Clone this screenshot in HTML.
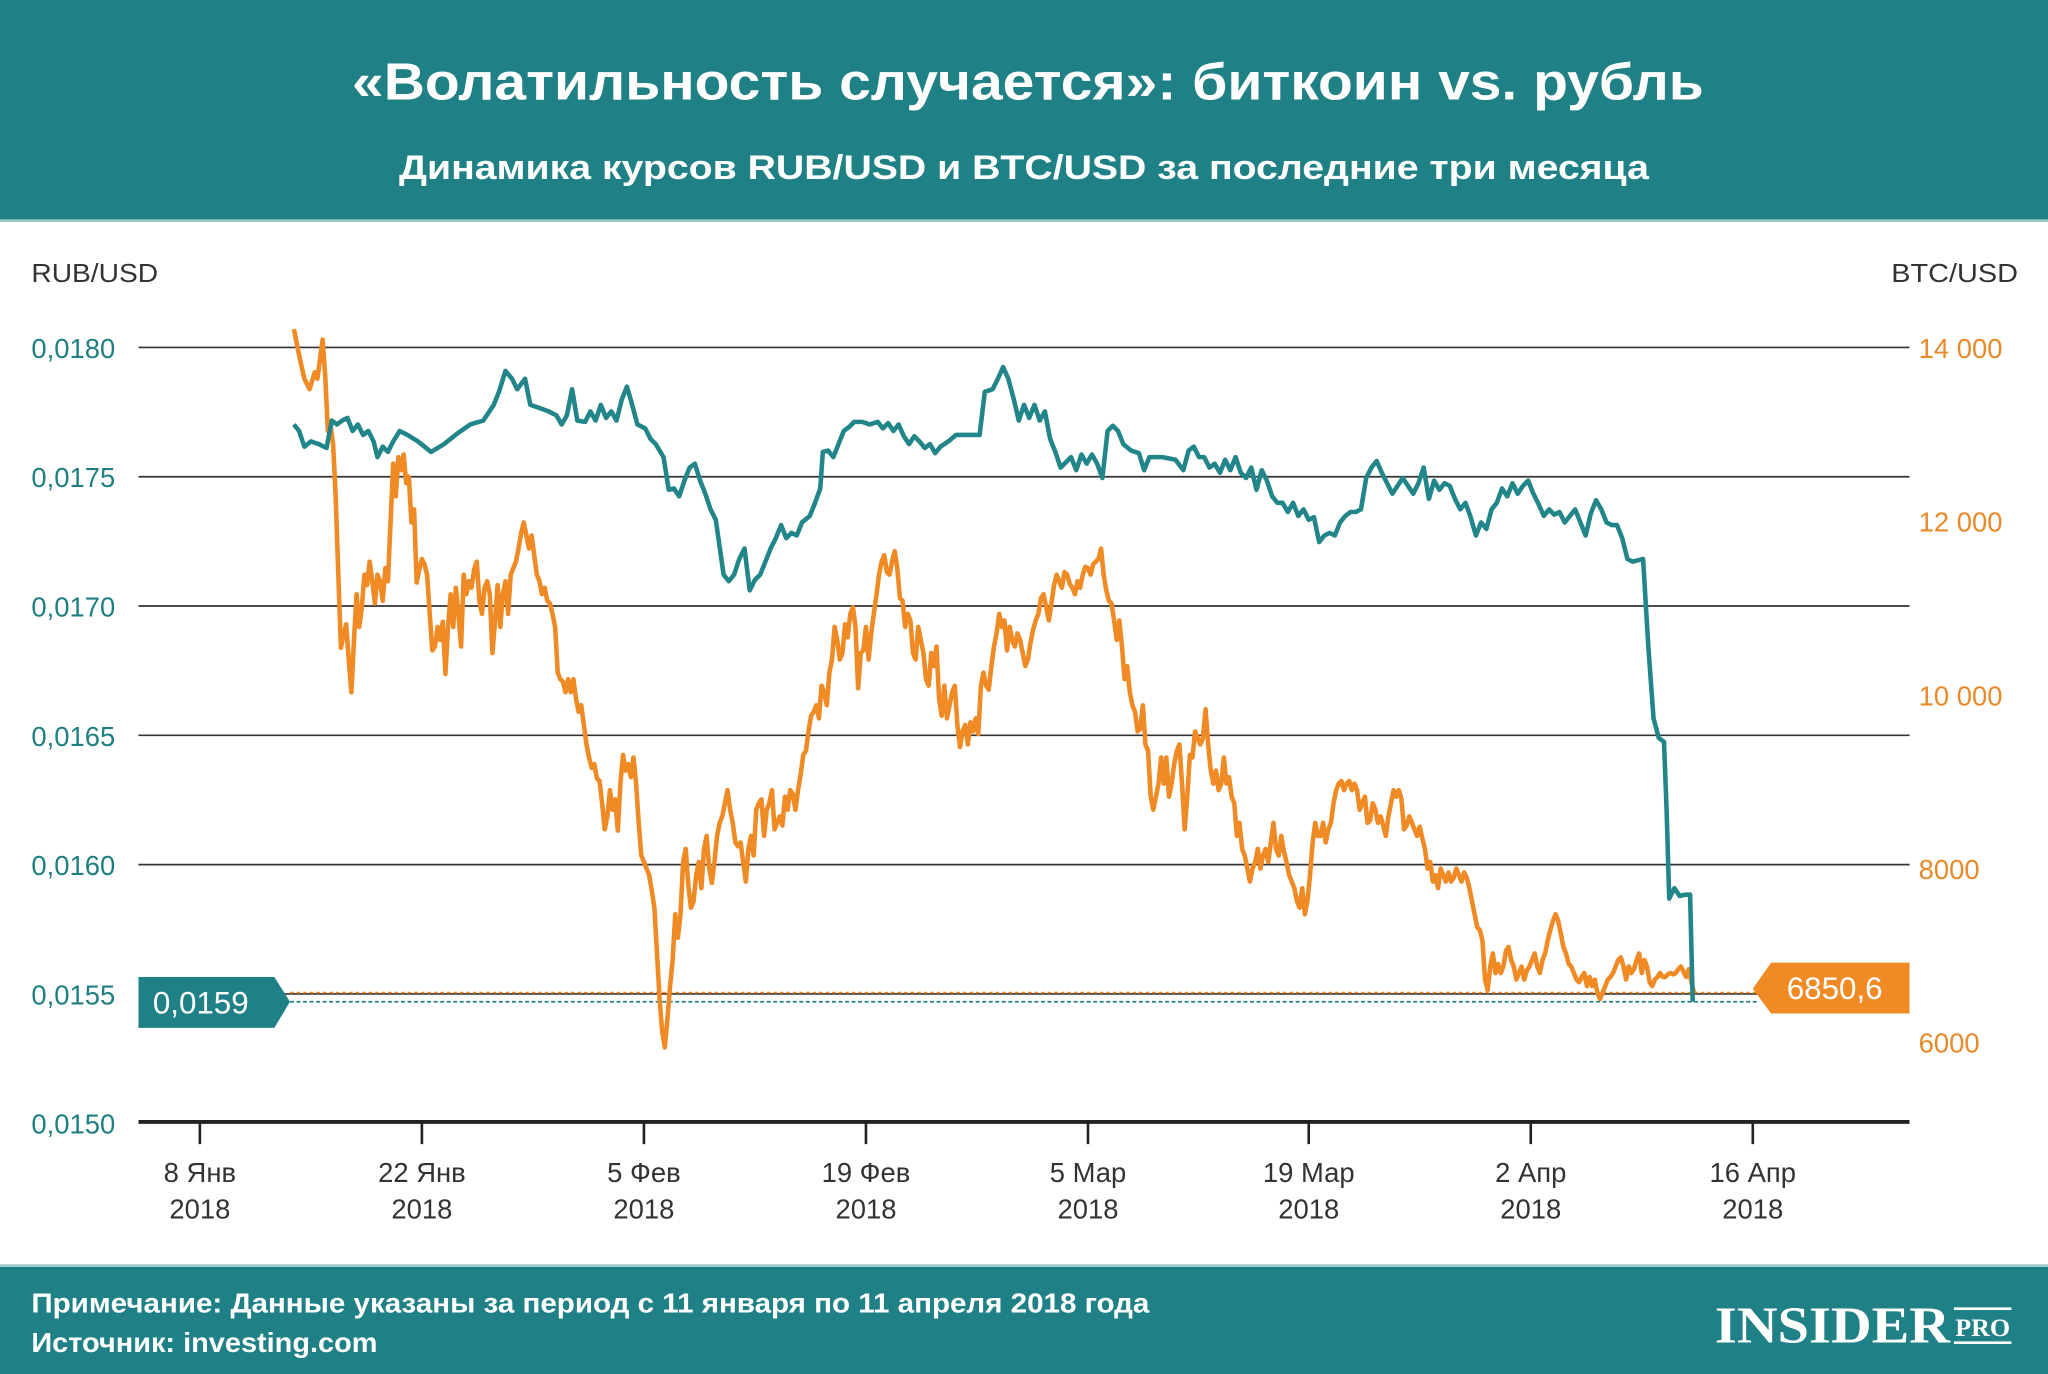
<!DOCTYPE html>
<html><head><meta charset="utf-8"><style>
html,body{margin:0;padding:0;background:#fff;}
svg{display:block;}
text{font-family:"Liberation Sans",sans-serif;}
</style></head><body>
<svg width="2048" height="1374" viewBox="0 0 1568 1052" xmlns="http://www.w3.org/2000/svg">
<rect x="0" y="0" width="1568" height="168" fill="#1f8185"/>
<rect x="0" y="168" width="1568" height="2" fill="#9cc8c9"/>
<text x="787" y="76" text-anchor="middle" font-size="40" font-weight="bold" fill="#fff" textLength="1035" lengthAdjust="spacingAndGlyphs">«Волатильность случается»: биткоин vs. рубль</text>
<text x="784" y="137" text-anchor="middle" font-size="26" font-weight="bold" fill="#fff" textLength="957" lengthAdjust="spacingAndGlyphs">Динамика курсов RUB/USD и BTC/USD за последние три месяца</text>

<text x="24" y="216" font-size="20" fill="#333" textLength="97" lengthAdjust="spacingAndGlyphs">RUB/USD</text>
<text x="1545" y="216" text-anchor="end" font-size="20" fill="#333" textLength="97" lengthAdjust="spacingAndGlyphs">BTC/USD</text>

<g stroke="#333" stroke-width="1.3">
<line x1="106" y1="266" x2="1462" y2="266"/>
<line x1="106" y1="365" x2="1462" y2="365"/>
<line x1="106" y1="464" x2="1462" y2="464"/>
<line x1="106" y1="563" x2="1462" y2="563"/>
<line x1="106" y1="662" x2="1462" y2="662"/>
<line x1="106" y1="761" x2="1462" y2="761"/>
</g>
<line x1="106" y1="859" x2="1462" y2="859" stroke="#222" stroke-width="3"/>
<g stroke="#222" stroke-width="2">
<line x1="153" y1="860" x2="153" y2="876"/><line x1="323" y1="860" x2="323" y2="876"/>
<line x1="493" y1="860" x2="493" y2="876"/><line x1="663" y1="860" x2="663" y2="876"/>
<line x1="833" y1="860" x2="833" y2="876"/><line x1="1002" y1="860" x2="1002" y2="876"/>
<line x1="1172" y1="860" x2="1172" y2="876"/><line x1="1342" y1="860" x2="1342" y2="876"/>
</g>
<g font-size="21" fill="#1f7f82">
<text x="24" y="274">0,0180</text><text x="24" y="373">0,0175</text><text x="24" y="472">0,0170</text>
<text x="24" y="571">0,0165</text><text x="24" y="670">0,0160</text><text x="24" y="769">0,0155</text>
<text x="24" y="868">0,0150</text>
</g>
<g font-size="21" fill="#e88a2a">
<text x="1469" y="274">14 000</text><text x="1469" y="407">12 000</text><text x="1469" y="540">10 000</text>
<text x="1469" y="673">8000</text><text x="1469" y="806">6000</text>
</g>
<g font-size="21" fill="#333" text-anchor="middle">
<text x="153" y="905">8 Янв</text><text x="153" y="933">2018</text>
<text x="323" y="905">22 Янв</text><text x="323" y="933">2018</text>
<text x="493" y="905">5 Фев</text><text x="493" y="933">2018</text>
<text x="663" y="905">19 Фев</text><text x="663" y="933">2018</text>
<text x="833" y="905">5 Мар</text><text x="833" y="933">2018</text>
<text x="1002" y="905">19 Мар</text><text x="1002" y="933">2018</text>
<text x="1172" y="905">2 Апр</text><text x="1172" y="933">2018</text>
<text x="1342" y="905">16 Апр</text><text x="1342" y="933">2018</text>
</g>

<line x1="222" y1="760" x2="1345" y2="760" stroke="#e88a2a" stroke-width="1.3" stroke-dasharray="3,2"/>
<line x1="222" y1="767" x2="1345" y2="767" stroke="#1f8185" stroke-width="1.3" stroke-dasharray="3,2"/>

<polyline fill="none" stroke="#f08a24" stroke-width="3.5" stroke-linejoin="round" points="225,252 229,272 233,290 237,298 241,285 243,290 245,275 247,260 249,288 251,330 253,325 255,340 257,380 259,440 261,496 263,486 265,478 267,505 269,530 271,490 273,455 275,480 277,465 279,440 281,448 283,430 285,445 287,462 289,440 291,445 293,460 295,435 297,445 299,400 301,355 303,380 305,350 307,360 309,348 311,370 313,365 315,400 317,390 319,446 321,436 323,428 325,432 327,440 329,470 331,498 333,495 335,480 337,490 339,476 341,516 343,480 345,455 347,480 349,450 351,470 353,495 355,440 357,455 359,445 361,450 363,436 365,430 367,460 369,470 371,450 373,445 375,455 377,500 379,475 381,448 383,480 385,455 387,445 389,470 391,440 393,435 395,430 397,420 399,408 401,400 403,410 405,420 407,410 409,425 411,440 413,445 415,455 417,450 419,460 421,462 423,470 425,480 427,515 429,520 431,522 433,530 435,520 437,530 439,520 441,535 443,545 445,540 447,555 449,570 451,580 453,588 455,585 457,596 459,598 461,615 463,635 465,625 467,605 469,620 471,612 473,636 475,600 477,578 479,590 481,585 483,595 485,580 487,600 489,630 491,655 493,660 495,665 497,670 499,682 501,695 503,730 505,765 507,790 509,802 511,780 513,755 515,735 517,700 519,718 521,700 523,660 525,650 527,678 529,695 531,690 533,670 535,660 537,680 539,650 541,640 543,665 545,676 547,660 549,640 551,630 553,625 555,615 557,605 559,620 561,630 563,645 565,648 567,645 569,660 571,675 573,650 575,640 577,655 579,620 581,615 583,612 585,640 587,620 589,615 591,605 593,635 595,630 597,625 599,632 601,610 603,620 605,605 607,608 609,620 611,605 613,593 615,578 617,575 619,560 621,548 623,545 625,540 627,550 629,525 631,530 633,540 635,515 637,505 639,480 641,490 643,505 645,500 647,478 649,488 651,470 653,465 655,480 657,527 659,500 661,498 663,480 665,505 667,485 669,470 671,456 673,440 675,430 677,425 679,438 681,440 683,430 685,422 687,435 689,458 691,460 693,480 695,470 697,475 699,500 701,505 703,480 705,490 707,500 709,520 711,525 713,500 715,510 717,495 719,535 721,548 723,525 725,550 727,540 729,530 731,525 733,555 735,572 737,560 739,555 741,570 743,553 745,560 747,550 749,562 751,525 753,515 755,525 757,528 759,510 761,495 763,485 765,470 767,480 769,475 771,498 773,480 775,490 777,495 779,485 781,490 783,500 785,510 787,505 789,492 791,482 793,475 795,470 797,458 799,455 801,465 803,475 805,462 807,448 809,440 811,445 813,450 815,438 817,440 819,447 821,450 823,455 825,445 827,450 829,440 831,434 833,435 835,440 837,432 839,430 841,428 843,420 845,440 847,452 849,460 851,462 853,475 855,490 857,475 859,495 861,520 863,510 865,530 867,540 869,545 871,560 873,558 875,540 877,570 879,575 881,610 883,620 885,610 887,600 889,580 891,600 893,580 895,610 897,600 899,585 901,575 903,570 905,600 907,635 909,610 911,578 913,580 915,560 917,565 919,570 921,565 923,543 925,570 927,590 929,600 931,590 933,605 935,600 937,580 939,600 941,595 943,610 945,615 947,640 949,630 951,650 953,655 955,665 957,675 959,665 961,660 963,650 965,665 967,655 969,650 971,660 973,645 975,630 977,650 979,655 981,640 983,652 985,660 987,670 989,675 991,680 993,690 995,695 997,680 999,700 1001,690 1003,670 1005,645 1007,630 1009,640 1011,640 1013,630 1015,645 1017,635 1019,630 1021,615 1023,605 1025,600 1027,598 1029,605 1031,600 1033,598 1035,605 1037,600 1039,605 1041,620 1043,615 1045,610 1047,630 1049,628 1051,615 1053,620 1055,630 1057,625 1059,632 1061,640 1063,625 1065,615 1067,605 1069,610 1071,605 1073,612 1075,635 1077,632 1079,625 1081,630 1083,635 1085,640 1087,633 1089,642 1091,650 1093,665 1095,660 1097,675 1099,670 1101,680 1103,665 1105,670 1107,675 1109,668 1111,675 1113,672 1115,665 1117,670 1119,675 1121,668 1123,672 1125,680 1127,690 1129,700 1131,710 1133,712 1135,720 1137,750 1139,758 1141,740 1143,730 1145,745 1147,738 1149,745 1151,740 1153,728 1155,725 1157,735 1159,740 1161,750 1163,745 1165,740 1167,750 1169,743 1171,740 1173,735 1175,730 1177,740 1179,745 1181,735 1183,730 1185,720 1187,712 1189,705 1191,700 1193,705 1195,715 1197,725 1199,730 1201,738 1203,740 1205,745 1207,750 1209,752 1211,748 1213,745 1215,755 1217,748 1219,755 1221,750 1223,760 1225,765 1227,760 1229,755 1231,750 1233,748 1235,745 1237,740 1239,735 1241,733 1243,740 1245,750 1247,740 1249,745 1251,742 1253,735 1255,730 1257,745 1259,735 1261,740 1263,752 1265,755 1267,750 1269,748 1271,745 1273,748 1275,748 1277,746 1279,745 1281,746 1283,745 1285,742 1287,740 1289,744 1291,748 1293,742 1295,752 1297,760"/>

<polyline fill="none" stroke="#21858a" stroke-width="3.5" stroke-linejoin="round" points="225,325 229,330 233,342 238,338 244,340 250,343 254,322 258,325 262,322 266,320 270,330 274,325 278,333 282,330 286,338 289,350 293,342 297,346 301,338 306,330 312,333 320,338 330,346 340,340 350,332 360,325 370,322 378,310 382,300 387,284 392,290 396,298 402,290 406,310 412,312 420,315 426,318 430,325 434,318 438,298 442,322 448,323 452,315 456,322 460,310 464,320 468,315 472,322 476,306 480,296 484,310 488,325 494,328 498,336 502,340 508,350 512,375 516,374 520,380 524,368 528,358 532,355 536,368 540,378 544,390 548,398 550,412 554,440 558,445 562,440 566,428 570,420 574,452 578,444 582,440 586,430 590,420 594,412 598,402 602,412 606,408 610,410 614,400 620,395 624,385 628,374 630,346 634,345 638,350 642,340 646,330 650,327 654,323 660,323 666,325 672,323 676,328 680,324 684,330 688,325 692,334 696,340 700,334 704,338 708,343 712,340 716,347 720,342 726,338 732,333 738,333 744,333 750,333 754,300 760,298 764,290 768,281 772,290 776,305 780,322 784,310 788,320 792,310 796,322 800,315 804,336 808,346 812,358 816,354 820,350 824,360 828,348 832,355 836,348 840,355 844,366 848,330 852,326 856,330 860,340 866,345 872,347 876,360 880,350 890,350 900,352 906,360 910,345 914,342 918,350 922,350 926,358 930,355 934,362 938,352 942,360 946,350 950,362 954,366 958,358 962,375 966,360 970,368 974,380 978,385 982,385 986,392 990,385 994,395 998,390 1002,398 1006,396 1010,415 1014,410 1018,408 1022,410 1026,400 1030,395 1034,392 1038,392 1042,390 1046,366 1050,358 1054,353 1058,362 1062,370 1066,378 1070,372 1074,366 1078,372 1082,378 1086,370 1090,358 1094,382 1098,368 1102,375 1106,370 1110,372 1114,382 1118,390 1122,385 1126,396 1130,410 1134,400 1138,405 1142,390 1146,385 1150,374 1154,380 1158,370 1162,378 1166,372 1170,368 1174,378 1178,386 1182,395 1186,390 1190,394 1194,392 1198,400 1202,395 1206,390 1210,400 1214,410 1218,393 1222,383 1226,390 1230,400 1234,402 1238,402 1242,412 1246,428 1250,430 1254,429 1258,428 1262,495 1266,550 1270,565 1274,568 1276,620 1278,688 1282,680 1286,686 1290,685 1294,685 1296,767"/>

<polygon points="106,748 210,748 222,767 210,787 106,787" fill="#1f8185"/>
<text x="117" y="776" font-size="24" fill="#fff">0,0159</text>
<polygon points="1342,757 1356,737 1462,737 1462,776 1356,776" fill="#f08a24"/>
<text x="1368" y="765" font-size="24" fill="#fff">6850,6</text>

<rect x="0" y="970" width="1568" height="82" fill="#1f8185"/>
<rect x="0" y="968" width="1568" height="2" fill="#9cc8c9"/>
<text x="24" y="1005" font-size="21" font-weight="bold" fill="#fff" textLength="856" lengthAdjust="spacingAndGlyphs">Примечание: Данные указаны за период с 11 января по 11 апреля 2018 года</text>
<text x="24" y="1035" font-size="21" font-weight="bold" fill="#fff" textLength="265" lengthAdjust="spacingAndGlyphs">Источник: investing.com</text>
<text x="1313" y="1028" style="font-family:'Liberation Serif',serif" font-size="40" font-weight="bold" fill="#fff" textLength="180" lengthAdjust="spacingAndGlyphs">INSIDER</text>
<line x1="1496" y1="1002" x2="1540" y2="1002" stroke="#fff" stroke-width="2"/>
<text x="1497" y="1023" style="font-family:'Liberation Serif',serif" font-size="19" font-weight="bold" fill="#fff" textLength="42" lengthAdjust="spacingAndGlyphs">PRO</text>
<line x1="1496" y1="1028" x2="1540" y2="1028" stroke="#fff" stroke-width="2"/>
</svg>
</body></html>
